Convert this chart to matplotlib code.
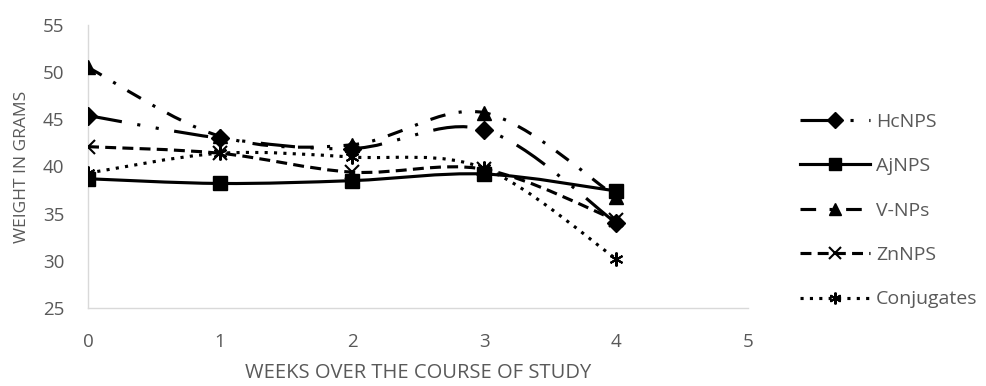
import numpy as np
import matplotlib.pyplot as plt
from matplotlib.path import Path
from matplotlib.patches import PathPatch
from matplotlib.lines import Line2D

plt.rcParams["font.family"] = ["Open Sans", "DejaVu Sans"]

# -----------------------------
# DATA
# -----------------------------
weeks = [0, 1, 2, 3, 4]
hcnps = [45.4, 43.0, 41.9, 43.9, 34.0]
ajnps = [38.7, 38.2, 38.5, 39.2, 37.4]
vnps = [50.5, 43.2, 42.3, 45.7, 36.8]
znnps = [42.1, 41.4, 39.4, 39.7, 34.3]
conjugates = [39.3, 41.4, 41.0, 39.8, 30.2]

series_names = ["HcNPS", "AjNPS", "V-NPs", "ZnNPS", "Conjugates"]
series_values = [hcnps, ajnps, vnps, znnps, conjugates]

# line style / marker for each series (dashes in units of linewidth)
styles = [
    dict(ls=(0, (11, 5, 1, 5, 1, 5)), marker="D", ms=9),
    dict(ls="-", marker="s", ms=10),
    dict(ls=(0, (5, 4.3, 1, 4.3)), marker="^", ms=10),
    dict(ls=(0, (3.5, 2)), marker="x", ms=10),
    dict(ls=(0, (1, 2)), marker=(6, 2, 0), ms=10),
]

LW = 2.25
GREY = "#595959"


def smooth_path(x, y):
    # cubic bezier through the points (catmull-rom style tangents)
    pts = np.column_stack([x, y]).astype(float)
    n = len(pts)
    verts = [pts[0]]
    codes = [Path.MOVETO]
    for i in range(n - 1):
        p0 = pts[i - 1] if i > 0 else pts[i]
        p1 = pts[i]
        p2 = pts[i + 1]
        p3 = pts[i + 2] if i + 2 < n else pts[i + 1]
        c1 = p1 + (p2 - p0) / 6.0
        c2 = p2 - (p3 - p1) / 6.0
        verts += [c1, c2, p2]
        codes += [Path.CURVE4] * 3
    return Path(verts, codes)


fig = plt.figure(figsize=(9.87, 3.86), dpi=100)
ax = fig.add_axes([0.0892, 0.2021, 0.669, 0.7332])

handles = []
for name, vals, st in zip(series_names, series_values, styles):
    patch = PathPatch(smooth_path(weeks, vals), fill=False, edgecolor="black",
                      lw=LW, linestyle=st["ls"], capstyle="butt", zorder=2)
    ax.add_patch(patch)
    mew = 1.5 if st["marker"] in ("x",) or isinstance(st["marker"], tuple) else 1
    ax.plot(weeks, vals, linestyle="none", marker=st["marker"], ms=st["ms"],
            color="black", mew=mew, zorder=3)
    handles.append(Line2D([], [], color="black", lw=LW, linestyle=st["ls"],
                          marker=st["marker"], ms=st["ms"] * 0.85, mew=mew,
                          dash_capstyle="butt"))

ax.set_xlim(0, 5)
ax.set_ylim(25, 55)
ax.set_xticks(range(0, 6))
ax.set_yticks(range(25, 56, 5))

for side in ("top", "right"):
    ax.spines[side].set_visible(False)
for side in ("left", "bottom"):
    ax.spines[side].set_color("#d9d9d9")
    ax.spines[side].set_linewidth(1)
ax.tick_params(length=0, labelsize=13.5, colors=GREY)
ax.tick_params(axis="y", pad=17)
ax.tick_params(axis="x", pad=18)

ax.set_ylabel("WEIGHT IN GRAMS", fontsize=12.5, color=GREY, labelpad=9)
ax.set_xlabel("WEEKS OVER THE COURSE OF STUDY", fontsize=14.5, color=GREY,
              labelpad=9)

leg = fig.legend(handles, series_names, loc="upper left",
                 bbox_to_anchor=(0.8105, 0.708), frameon=False, fontsize=14,
                 handlelength=3.6, labelspacing=1.36, handletextpad=0.3,
                 borderpad=0, borderaxespad=0)
for t in leg.get_texts():
    t.set_color(GREY)

fig.savefig("out.png", dpi=100)
